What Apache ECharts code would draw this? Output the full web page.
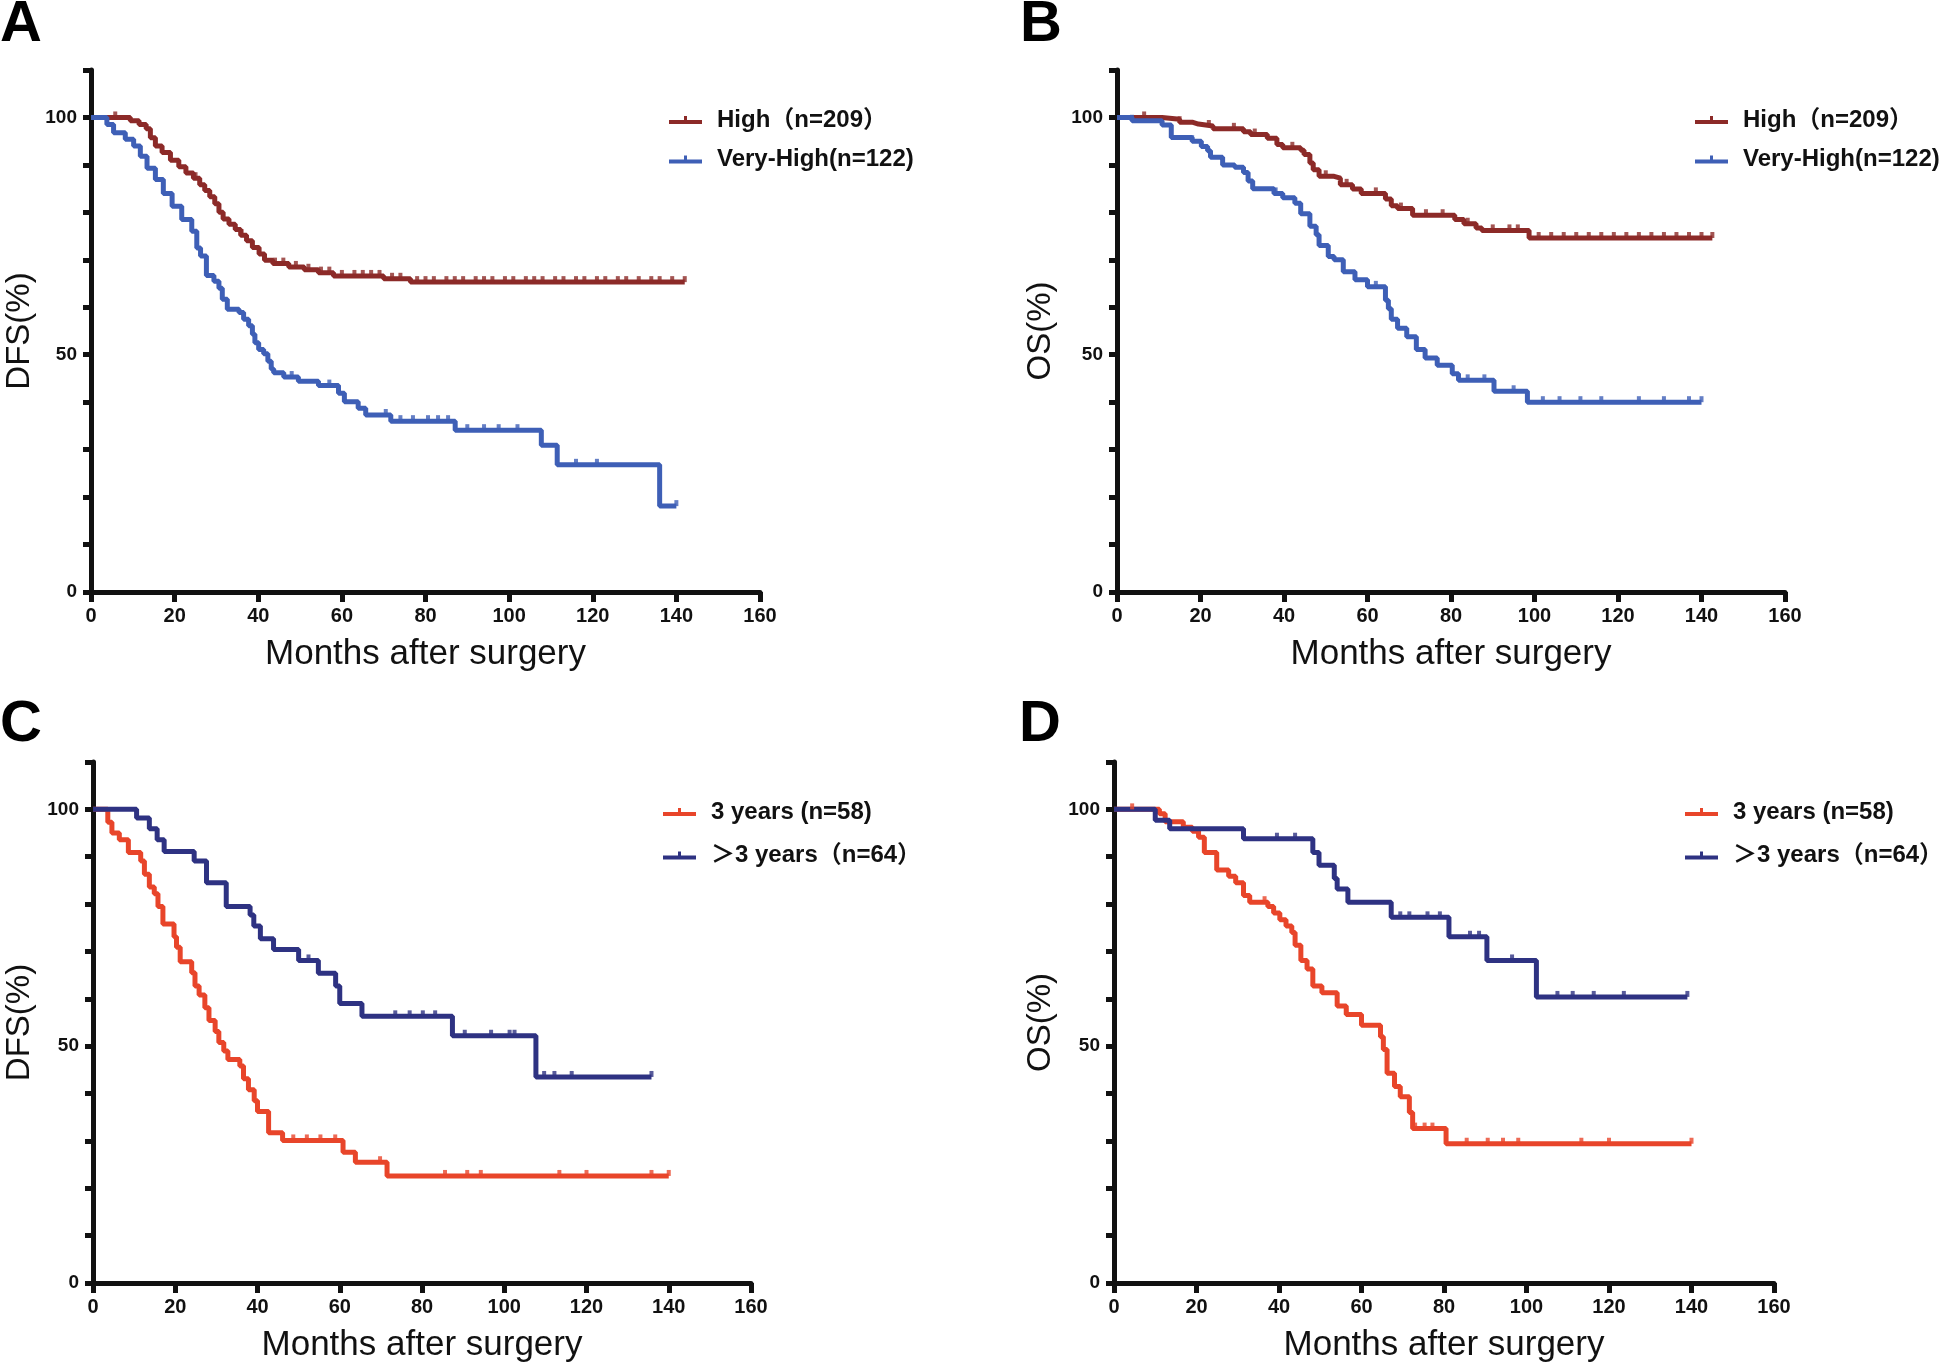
<!DOCTYPE html>
<html>
<head>
<meta charset="utf-8">
<script src="https://cdn.jsdelivr.net/npm/echarts@6/dist/echarts.min.js"></script>
<style>
html,body{margin:0;padding:0;background:#fff;}
#chart{width:1945px;height:1365px;}
</style>
</head>
<body>
<div id="chart"></div>
<script>
// ---------------- DATA ----------------
const xTicks = [0, 20, 40, 60, 80, 100, 120, 140, 160];
const yLabelValues = [0, 50, 100];
const panelLetters = ['A', 'B', 'C', 'D'];
const yTitles = ['DFS(%)', 'OS(%)', 'DFS(%)', 'OS(%)'];
const xTitle = 'Months after surgery';
const namesAB = ['High（n=209）', 'Very-High(n=122)'];
const namesCD = ['3 years (n=58)', '＞3 years（n=64）'];

// Panel A – DFS, High
const A_high_t = [9.4, 11.5, 13.2, 14.2, 15.4, 17.0, 19.0, 21.0, 22.7, 24.5, 26.0, 27.2, 28.4, 29.6, 30.6, 31.6, 33.0, 34.5, 35.8, 37.2, 38.6, 40.2, 41.5, 43.5, 47.3, 51.0, 54.4, 58.0, 70.0, 76.4];
const A_high_s = [99.3, 98.5, 97.6, 95.7, 94.0, 92.6, 91.0, 89.6, 88.3, 87.2, 85.8, 84.6, 83.3, 81.8, 80.0, 78.6, 77.5, 76.4, 75.2, 74.0, 72.6, 71.2, 69.9, 69.2, 68.5, 67.9, 67.3, 66.6, 66.0, 65.3];
const A_high_end = 142;
const A_high_cens = [5.8, 25, 36, 44, 46, 49, 52, 55, 57, 60, 63, 65, 67, 69, 72, 74, 78, 80, 82, 85, 87, 89, 92, 94, 96, 99, 101, 104, 106, 108, 111, 113, 116, 118, 121, 123, 126, 128, 131, 134, 136, 139, 142];
// Panel A – DFS, Very-High
const A_vh_t = [3.8, 5.4, 8.2, 10.2, 11.8, 13.4, 15.4, 17.3, 19.4, 21.7, 24.1, 25.3, 26.2, 27.6, 29.4, 30.6, 31.4, 32.6, 35.4, 36.5, 37.7, 38.6, 39.2, 40.1, 41.3, 42.3, 43.1, 43.7, 46.1, 49.6, 54.4, 59.2, 60.6, 63.9, 65.7, 71.7, 87.1, 107.7, 111.5, 136];
const A_vh_s = [98.5, 96.8, 95.4, 94.0, 91.8, 89.3, 86.9, 84.0, 81.3, 78.5, 76.0, 72.5, 70.8, 66.7, 65.5, 64.0, 61.7, 59.6, 58.9, 57.5, 56.1, 54.3, 52.5, 51.1, 50.2, 48.6, 47.0, 46.2, 45.3, 44.4, 43.5, 41.9, 40.1, 38.7, 37.3, 36.0, 34.1, 30.9, 26.8, 18.1];
const A_vh_end = 140;
const A_vh_cens = [48, 57, 70.5, 74, 77, 80.6, 83, 85.4, 90, 94, 97.5, 102, 116, 121, 140];

// Panel B – OS, High
const B_high_t = [10.8, 15, 18, 19.5, 23, 30.3, 32, 36, 38.3, 39.7, 44.0, 44.8, 46.2, 47, 48.4, 52, 53.5, 56.4, 58.5, 64.3, 65.7, 67.2, 70.8, 80.9, 83.1, 86, 87.4, 98.7];
const B_high_s = [99.6, 99.0, 98.6, 98.2, 97.6, 97.0, 96.4, 95.6, 94.3, 93.6, 93.1, 92.2, 90.4, 89.0, 87.6, 87.2, 85.8, 84.9, 84.0, 82.8, 81.4, 80.8, 79.4, 78.5, 77.6, 76.7, 76.2, 74.6];
const B_high_end = 142.6;
const B_high_cens = [6.5, 15, 22, 28, 33, 42, 50, 55, 62, 68, 74, 78, 84, 90, 94, 96, 101, 104, 107, 110, 113, 116, 119, 122, 125, 128, 131, 134, 137, 140, 142.6];
// Panel B – OS, Very-High
const B_vh_t = [3.6, 10.8, 13, 18, 20.2, 21.7, 22.4, 25.3, 28.2, 30.3, 31.4, 32.5, 37.6, 39.7, 42.6, 44, 46.2, 47.7, 48.4, 50.6, 52, 54.2, 57, 60, 64.3, 65, 65.7, 67.2, 69.4, 71.7, 73.8, 76.7, 80.3, 81.8, 90.3, 98.3];
const B_vh_s = [99.3, 98.4, 95.8, 95.0, 93.9, 93.0, 91.6, 90.0, 89.5, 88.4, 86.6, 85.0, 84.0, 83.1, 81.9, 79.7, 77.1, 75.3, 73.0, 70.7, 70.0, 67.5, 65.8, 64.3, 61.5, 59.7, 57.5, 55.6, 53.8, 51.1, 49.3, 47.8, 46.0, 44.6, 42.3, 40.0];
const B_vh_end = 140;
const B_vh_cens = [3.6, 18, 38, 62, 84, 88, 95, 102, 106, 111, 116, 125, 131, 137, 140];

// Panel C – DFS, 3 years
const C_3y_t = [3.6, 4.6, 6.4, 8.6, 11.6, 12.5, 13.7, 14.9, 15.8, 17.0, 19.7, 20.3, 21.2, 24.0, 24.8, 25.8, 27.2, 28.2, 29.7, 30.6, 31.8, 32.8, 35.7, 36.6, 37.8, 39.2, 40.0, 42.7, 46.1, 60.8, 63.8, 71.5];
const C_3y_s = [97.3, 95.0, 93.6, 90.9, 89.1, 86.3, 83.6, 82.2, 79.5, 75.8, 73.1, 70.9, 67.8, 65.5, 62.7, 60.8, 58.1, 55.4, 53.1, 50.8, 49.0, 47.2, 45.8, 43.1, 40.8, 38.5, 36.2, 31.7, 30.1, 27.6, 25.5, 22.6];
const C_3y_end = 140;
const C_3y_cens = [48.7, 52, 55.3, 58.9, 69.8, 85.6, 91, 94.3, 113.4, 120, 135.8, 140];
// Panel C – DFS, >3 years
const C_gt3_t = [10.6, 13.7, 15.6, 17.3, 24.6, 27.6, 32.4, 38.2, 39.1, 40.7, 43.9, 50.0, 54.8, 59.0, 60.0, 65.4, 87.4, 107.7];
const C_gt3_s = [98.2, 95.9, 93.6, 91.1, 89.1, 84.5, 79.5, 77.7, 75.4, 72.7, 70.4, 68.1, 65.4, 62.7, 59.0, 56.3, 52.2, 43.5];
const C_gt3_end = 135.8;
const C_gt3_cens = [52.4, 73.5, 77, 80.2, 83.2, 90.4, 96.8, 101.3, 102.5, 109.7, 112.2, 116.4, 135.8];

// Panel D – OS, 3 years
const D_3y_t = [11, 12.4, 16.8, 19, 20.5, 21.9, 24.9, 27.8, 29.5, 31.4, 32.9, 37.3, 38.7, 40.2, 41.7, 43.1, 43.9, 45.3, 46.8, 48.2, 50.4, 54.1, 56.3, 60, 64.6, 65.3, 66.2, 68, 69.4, 71.6, 72.4, 80.5];
const D_3y_s = [99.1, 97.4, 96.2, 95.4, 94.1, 90.9, 87.2, 85.9, 84.5, 81.8, 80.4, 79.5, 78.1, 76.7, 75.4, 74.0, 71.3, 68.1, 66.3, 62.7, 61.3, 58.5, 56.7, 54.4, 52.0, 49.3, 44.3, 41.5, 39.3, 36.0, 32.6, 29.4];
const D_3y_end = 140;
const D_3y_cens = [4.4, 36.5, 56.3, 73, 75.3, 77.2, 85.5, 90.6, 94.3, 98, 113.3, 120, 140];
// Panel D – OS, >3 years
const D_gt3_t = [10, 13.5, 31.4, 48.2, 49.7, 53.4, 54.1, 56.7, 67.2, 81.2, 90.4, 102.4];
const D_gt3_s = [97.7, 95.9, 93.8, 90.9, 88.2, 85.4, 83.2, 80.4, 77.2, 73.1, 68.1, 60.4];
const D_gt3_end = 139;
const D_gt3_cens = [39.5, 43.9, 69.4, 71.6, 76, 79, 86.3, 88.5, 96.5, 107.5, 111.2, 116.3, 123.6, 139];

// ---------------- STYLE ----------------
const FONT = "'Liberation Sans', Arial, 'Noto Sans CJK SC', sans-serif";
const colAB = ['#8c2a28', '#3e5fb6'];
const colCD = ['#e8452a', '#2e3282'];
const AXIS = '#111';

function curve(t, s, end) {
  const d = [[0, 100]];
  for (let i = 0; i < t.length; i++) d.push([t[i], s[i]]);
  d.push([end, s[s.length - 1]]);
  return d;
}
function survAt(t, s, x) {
  let v = 100;
  for (let i = 0; i < t.length; i++) { if (t[i] <= x) v = s[i]; }
  return v;
}
function censors(t, s, c) { return c.map(x => [x, survAt(t, s, x)]); }

const grids = [
  {left: 91, top: 70, width: 669, height: 522},
  {left: 1117, top: 70, width: 668, height: 522},
  {left: 93, top: 762, width: 658, height: 521},
  {left: 1114, top: 762, width: 660, height: 521}
];
const yNameGaps = [55, 60, 57, 57];
const letterPos = [[0, -4], [1020, -4], [0, 696], [1019, 696]];
const legendPos = [[669, 107], [1695, 107], [663, 799], [1685, 799]];
const legendGaps = [13.5, 13.5, 17.4, 17.4];

const panels = [
  {names: namesAB, colors: colAB, curves: [[A_high_t, A_high_s, A_high_end, A_high_cens], [A_vh_t, A_vh_s, A_vh_end, A_vh_cens]]},
  {names: namesAB, colors: colAB, curves: [[B_high_t, B_high_s, B_high_end, B_high_cens], [B_vh_t, B_vh_s, B_vh_end, B_vh_cens]]},
  {names: namesCD, colors: colCD, curves: [[C_3y_t, C_3y_s, C_3y_end, C_3y_cens], [C_gt3_t, C_gt3_s, C_gt3_end, C_gt3_cens]]},
  {names: namesCD, colors: colCD, curves: [[D_3y_t, D_3y_s, D_3y_end, D_3y_cens], [D_gt3_t, D_gt3_s, D_gt3_end, D_gt3_cens]]}
];

const xAxes = [], yAxes = [], series = [], legends = [], graphics = [];
panels.forEach((p, i) => {
  xAxes.push({
    type: 'value', gridIndex: i, min: 0, max: 160, interval: 20,
    axisLine: {show: true, onZero: false, lineStyle: {color: AXIS, width: 5}},
    axisTick: {show: true, length: 10, lineStyle: {color: AXIS, width: 5}},
    axisLabel: {fontSize: 20, fontWeight: 'bold', color: AXIS, margin: 14, fontFamily: FONT,
      formatter: v => xTicks.indexOf(v) >= 0 ? String(v) : ''},
    splitLine: {show: false},
    name: xTitle, nameLocation: 'middle', nameGap: 45,
    nameTextStyle: {fontSize: 35, color: AXIS, fontFamily: FONT}
  });
  yAxes.push({
    type: 'value', gridIndex: i, min: 0, max: 110, interval: 10,
    axisLine: {show: true, onZero: false, lineStyle: {color: AXIS, width: 5}},
    axisTick: {show: true, length: 8, lineStyle: {color: AXIS, width: 5}},
    axisLabel: {fontSize: 19, fontWeight: 'bold', color: AXIS, margin: 14, fontFamily: FONT,
      formatter: v => yLabelValues.indexOf(v) >= 0 ? String(v) : ''},
    splitLine: {show: false},
    name: yTitles[i], nameLocation: 'middle', nameGap: yNameGaps[i],
    nameTextStyle: {fontSize: 33, color: AXIS, fontFamily: FONT}
  });
  p.curves.forEach((c, k) => {
    series.push({
      type: 'line', name: p.names[k], xAxisIndex: i, yAxisIndex: i, step: 'end',
      data: curve(c[0], c[1], c[2]), showSymbol: false, symbol: 'none',
      lineStyle: {color: p.colors[k], width: 5}, itemStyle: {color: p.colors[k]},
      z: 3, animation: false, silent: true
    });
    series.push({
      type: 'scatter', name: p.names[k], xAxisIndex: i, yAxisIndex: i,
      data: censors(c[0], c[1], c[3]), symbol: 'rect', symbolSize: [4, 6], symbolOffset: [0, -3],
      itemStyle: {color: p.colors[k]}, z: 4, animation: false, silent: true
    });
  });
  legends.push({
    data: p.names, orient: 'vertical', left: legendPos[i][0], top: legendPos[i][1],
    padding: 0, itemGap: legendGaps[i], itemWidth: 33, itemHeight: 10,
    icon: 'path://M0,5L33,5L33,9L0,9Z M15,1L18,1L18,5L15,5Z',
    textStyle: {fontSize: 24, fontWeight: 'bold', color: '#111', fontFamily: FONT, lineHeight: 26, padding: [0, 0, 0, 10]},
    selectedMode: false
  });
  graphics.push({
    type: 'text', left: letterPos[i][0], top: letterPos[i][1],
    style: {text: panelLetters[i], fill: '#000', font: 'bold 58px ' + FONT}
  });
});

const chart = echarts.init(document.getElementById('chart'), null, {renderer: 'canvas'});
chart.setOption({
  animation: false,
  backgroundColor: '#fff',
  grid: grids,
  xAxis: xAxes,
  yAxis: yAxes,
  legend: legends,
  series: series,
  graphic: graphics
});
</script>
</body>
</html>
